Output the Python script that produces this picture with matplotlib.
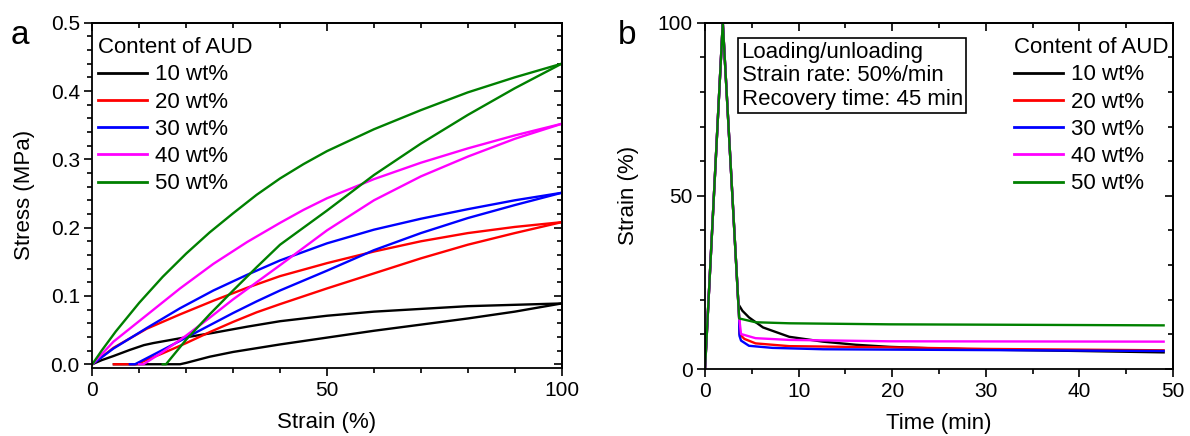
import matplotlib
matplotlib.use('Agg')
import matplotlib.pyplot as plt
from matplotlib.ticker import MultipleLocator, FormatStrFormatter

plt.rcParams['font.family'] = ['Liberation Sans', 'DejaVu Sans']

labels = ['10 wt%', '20 wt%', '30 wt%', '40 wt%', '50 wt%']
colors = ['black', '#ff0000', '#0000ff', '#ff00ff', '#008000']

# ---------------- (a) stress-strain loading / unloading ----------------
load_strain = [
    [0, 2, 4.5, 8, 11, 13, 18.7, 25.8, 33, 40, 50, 60, 70, 80, 90, 100],
    [0, 4.5, 11.6, 18.7, 25.8, 33, 40, 50, 60, 70, 80, 90, 100],
    [0, 4.5, 11.6, 18.7, 25.8, 33, 40, 50, 60, 70, 80, 90, 100],
    [0, 4.5, 11.6, 18.7, 25.8, 33, 40, 45, 50, 60, 70, 80, 90, 100],
    [0, 2, 5, 10, 15, 20, 25, 30, 35, 40, 45, 50, 60, 70, 80, 90, 100],
]
load_stress = [
    [0, 0.006, 0.012, 0.021, 0.028, 0.031, 0.038, 0.046, 0.055, 0.063, 0.071, 0.077, 0.081, 0.085, 0.087, 0.089],
    [0, 0.024, 0.052, 0.073, 0.093, 0.112, 0.129, 0.148, 0.165, 0.180, 0.192, 0.201, 0.208],
    [0, 0.023, 0.053, 0.082, 0.108, 0.131, 0.152, 0.177, 0.197, 0.213, 0.227, 0.240, 0.251],
    [0, 0.033, 0.072, 0.111, 0.147, 0.179, 0.207, 0.226, 0.243, 0.271, 0.295, 0.316, 0.335, 0.352],
    [0, 0.020, 0.048, 0.090, 0.128, 0.162, 0.193, 0.221, 0.248, 0.272, 0.293, 0.312, 0.344, 0.372, 0.398, 0.420, 0.440],
]
unload_strain = [
    [100, 90, 80, 70, 60, 50, 40, 30, 25, 20, 18.7, 4.6],
    [100, 90, 80, 70, 60, 50, 40, 35, 30, 25, 20, 15, 9.4, 4.6],
    [100, 90, 80, 70, 60, 50, 40, 35, 30, 25, 20, 15, 9.1, 8.0],
    [100, 90, 80, 70, 60, 50, 40, 35, 30, 25, 20, 15, 10.9, 10.0],
    [100, 90, 80, 70, 60, 50, 40, 35, 30, 25, 20, 15.7, 15.0],
]
unload_stress = [
    [0.089, 0.077, 0.067, 0.058, 0.049, 0.039, 0.029, 0.018, 0.011, 0.002, 0, 0],
    [0.208, 0.192, 0.175, 0.155, 0.133, 0.111, 0.088, 0.076, 0.062, 0.047, 0.031, 0.016, 0, 0],
    [0.251, 0.233, 0.214, 0.192, 0.167, 0.137, 0.108, 0.092, 0.075, 0.057, 0.039, 0.021, 0, 0],
    [0.352, 0.330, 0.304, 0.275, 0.240, 0.196, 0.145, 0.120, 0.095, 0.068, 0.042, 0.018, 0, 0],
    [0.440, 0.404, 0.365, 0.323, 0.277, 0.225, 0.175, 0.142, 0.108, 0.073, 0.036, 0, 0],
]

# ---------------- (b) strain recovery vs time ----------------
rec_time = [
    [0, 1.9, 3.57, 4.0, 4.7, 6.2, 9.0, 12.6, 16.1, 19.7, 25, 30, 40, 49],
    [0, 1.9, 3.65, 3.68, 4.2, 5.4, 9.0, 19.7, 30, 49],
    [0, 1.9, 3.65, 3.68, 3.85, 4.7, 7.2, 12.6, 19.7, 49],
    [0, 1.9, 3.65, 3.67, 3.85, 5.4, 9.0, 19.7, 49],
    [0, 1.9, 3.65, 5.4, 9.0, 19.7, 30, 49],
]
rec_strain = [
    [0, 100, 18.7, 16.8, 14.9, 12.0, 9.3, 7.9, 7.0, 6.4, 5.9, 5.6, 5.2, 4.8],
    [0, 100, 14.6, 10.1, 8.7, 7.4, 6.6, 6.25, 5.8, 5.4],
    [0, 100, 14.6, 9.6, 8.2, 6.7, 6.1, 5.7, 5.6, 5.2],
    [0, 100, 14.6, 14.4, 10.1, 8.9, 8.4, 8.0, 7.9],
    [0, 100, 14.6, 13.5, 13.2, 12.9, 12.8, 12.6],
]

box_text = 'Loading/unloading\nStrain rate: 50%/min\nRecovery time: 45 min'

W, H = 1190, 436
fig = plt.figure(figsize=(W / 100, H / 100), dpi=100)
axA = fig.add_axes([92.3 / W, 1 - 368 / H, 469.4 / W, 345.3 / H])
axB = fig.add_axes([705 / W, 1 - 369 / H, 468 / W, 346.3 / H])

LW = 1.7
TICK_FS = 15
FS = 16

for i in range(5):
    axA.plot(load_strain[i], load_stress[i], color=colors[i], lw=LW, label=labels[i],
             solid_joinstyle='round')
    axA.plot(unload_strain[i], unload_stress[i], color=colors[i], lw=LW,
             solid_joinstyle='round')
    axB.plot(rec_time[i], rec_strain[i], color=colors[i], lw=LW, label=labels[i],
             solid_joinstyle='round')

axA.set_xlim(0, 100)
axA.set_ylim(-0.0055, 0.5)
axB.set_xlim(0, 50)
axB.set_ylim(0, 100)

def style(ax, xmaj, xmin, ymaj, ymin):
    ax.xaxis.set_major_locator(MultipleLocator(xmaj))
    ax.xaxis.set_minor_locator(MultipleLocator(xmin))
    ax.yaxis.set_major_locator(MultipleLocator(ymaj))
    ax.yaxis.set_minor_locator(MultipleLocator(ymin))
    ax.tick_params(which='major', direction='out', length=6, width=1.2,
                   labelsize=TICK_FS, pad=3)
    ax.tick_params(which='minor', direction='out', length=3.5, width=1.2)
    for s in ax.spines.values():
        s.set_linewidth(1.3)
    top = ax.secondary_xaxis('top')
    right = ax.secondary_yaxis('right')
    for sec, axis, mj, mn in ((top, top.xaxis, xmaj, xmin), (right, right.yaxis, ymaj, ymin)):
        axis.set_major_locator(MultipleLocator(mj))
        axis.set_minor_locator(MultipleLocator(mn))
        sec.tick_params(which='major', direction='in', length=6, width=1.2)
        sec.tick_params(which='minor', direction='in', length=3.5, width=1.2)
        sec.tick_params(labeltop=False, labelright=False)
        for s in sec.spines.values():
            s.set_linewidth(1.3)

style(axA, 50, 10, 0.1, 0.02)
style(axB, 10, 5, 50, 10)

axA.yaxis.set_major_formatter(FormatStrFormatter('%.1f'))

axA.set_xlabel('Strain (%)', fontsize=FS, labelpad=9)
axA.set_ylabel('Stress (MPa)', fontsize=FS, labelpad=11)
axB.set_xlabel('Time (min)', fontsize=FS, labelpad=9)
axB.set_ylabel('Strain (%)', fontsize=FS, labelpad=13)

legA = axA.legend(loc='upper left', bbox_to_anchor=(0.012, 0.958), frameon=False,
                  title='Content of AUD', title_fontsize=FS, fontsize=FS,
                  handlelength=2.2, handletextpad=0.35, labelspacing=0.28,
                  borderpad=0, borderaxespad=0, alignment='left')
legB = axB.legend(loc='upper left', bbox_to_anchor=(0.66, 0.958), frameon=False,
                  title='Content of AUD', title_fontsize=FS, fontsize=FS,
                  handlelength=2.2, handletextpad=0.35, labelspacing=0.28,
                  borderpad=0, borderaxespad=0, alignment='left')
for leg in (legA, legB):
    for ln in leg.get_lines():
        ln.set_linewidth(2.0)

axB.text(0.078, 0.945, box_text, transform=axB.transAxes, fontsize=FS,
         va='top', ha='left', linespacing=1.15,
         bbox=dict(boxstyle='square,pad=0.15', fc='white', ec='black', lw=1.2))

fig.text(20 / W, 1 - 35 / H, 'a', fontsize=24, ha='center', va='center')
fig.text(627 / W, 1 - 35 / H, 'b', fontsize=24, ha='center', va='center')

fig.savefig('out.png', dpi=100)
